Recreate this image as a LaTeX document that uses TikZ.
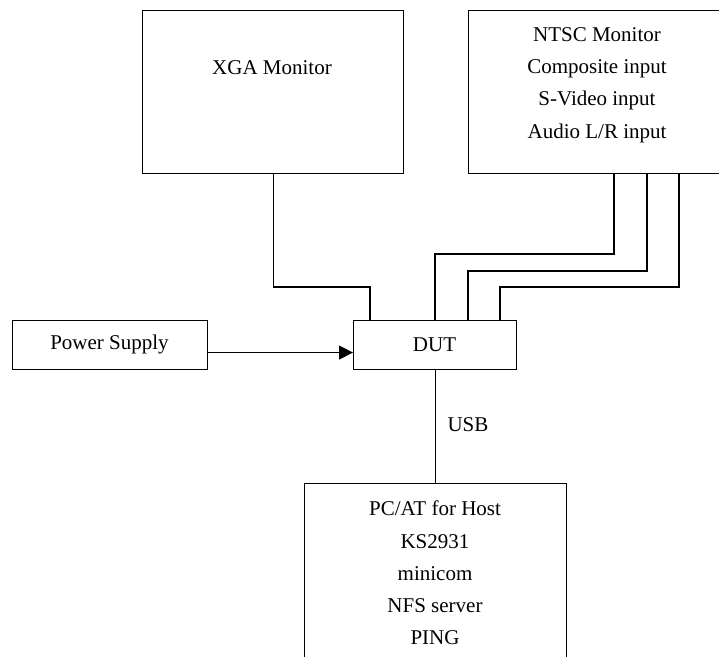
\documentclass[tikz,border=0pt]{standalone}
\usepackage{fontspec}
\setmainfont{Liberation Serif}
\usetikzlibrary{arrows.meta}
\begin{document}
\begin{tikzpicture}[x=1pt,y=-1pt,
  box/.style={draw, line width=1.1pt, rectangle, inner sep=0pt, anchor=north west},
  lbl/.style={font=\fontsize{21}{32.3}\selectfont, align=center, inner sep=0pt},
  wire/.style={line width=1.1pt}]
\useasboundingbox (0,0) rectangle (719,656);
\clip (0,0) rectangle (719,656);
\node[box, minimum width=261pt, minimum height=163pt] (xga) at (142,10) {};
\node[box, minimum width=300pt, minimum height=163pt] (ntsc) at (468,10) {};
\node[box, minimum width=195pt, minimum height=49pt] (ps) at (12,320) {};
\node[box, minimum width=163pt, minimum height=49pt] (dut) at (353,320) {};
\node[box, minimum width=262pt, minimum height=200pt] (pc) at (304,483) {};
\node[lbl] (xgat) at (272,68) {XGA Monitor};
\node[lbl] (ntsct) at (597,85) {NTSC Monitor\\Composite input\\S-Video input\\Audio L/R input};
\node[lbl] (pst) at (109.5,344.5) {Power Supply};
\node[lbl] (dutt) at (434.5,344.5) {DUT};
\node[lbl] (pct) at (435,573) {PC/AT for Host\\KS2931\\minicom\\NFS server\\PING};
\node[lbl] (usb) at (468,425) {USB};
\draw[wire] (xga.south) |- (370,287) -- (370,287 |- dut.north);
\draw[wire] (614,0 |- ntsc.south) |- (435,254) -- (435,254 |- dut.north);
\draw[wire] (647,0 |- ntsc.south) |- (468,271) -- (468,271 |- dut.north);
\draw[wire] (679,0 |- ntsc.south) |- (500,287) -- (500,287 |- dut.north);
\draw[wire] (dut.south) -- (dut.south |- pc.north);
\draw[wire, -{Triangle[length=14pt,width=14pt]}] ([yshift=-7.5pt]ps.east) -- ([yshift=-7.5pt]dut.west);
\end{tikzpicture}
\end{document}
